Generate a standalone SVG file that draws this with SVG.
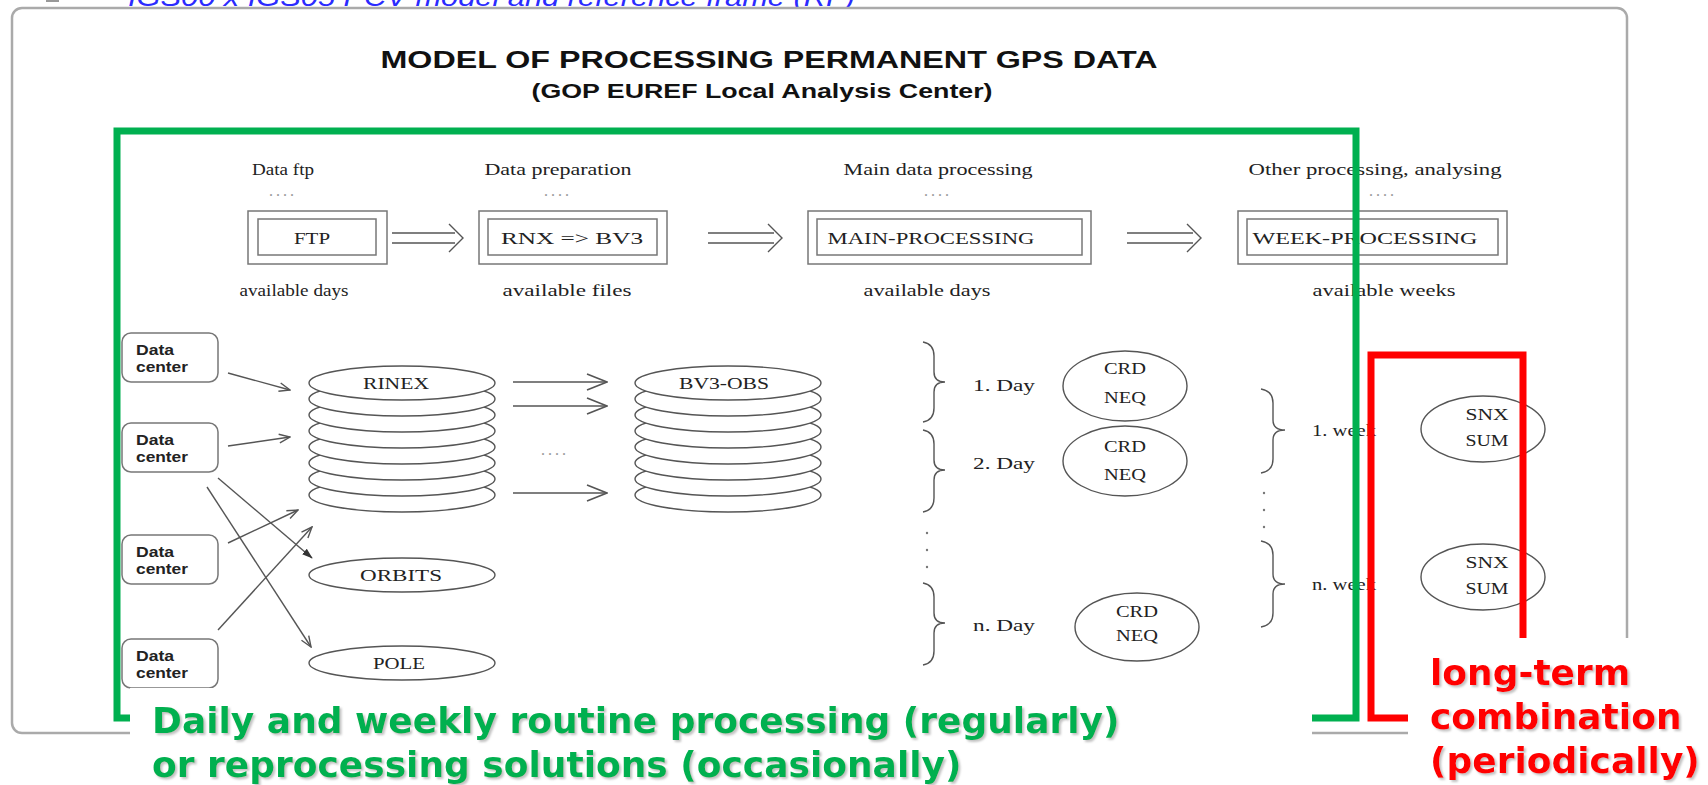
<svg xmlns="http://www.w3.org/2000/svg" width="1708" height="785" viewBox="0 0 1708 785">
<style>
.ln{fill:none;stroke:#555;stroke-width:1.4}
.bx{fill:#fff;stroke:#777;stroke-width:1.5}
.el{fill:#fff;stroke:#555;stroke-width:1.4}
.sr{font-family:"Liberation Serif",serif;fill:#222;font-size:17px}
.ss{font-family:"Liberation Sans",sans-serif;fill:#222;font-size:15px;font-weight:bold}
.dots{font-family:"Liberation Serif",serif;fill:#999;font-size:16px}
.big{font-family:"DejaVu Sans",Verdana,sans-serif;font-weight:bold;font-size:36px}
</style>
<defs>
<marker id="va" viewBox="0 0 12 10" refX="11" refY="5" markerWidth="13" markerHeight="11" markerUnits="userSpaceOnUse" orient="auto"><path d="M1,1 L11,5 L1,9" fill="none" stroke="#555" stroke-width="1.3"/></marker>
<marker id="vf" viewBox="0 0 12 10" refX="11" refY="5" markerWidth="11" markerHeight="9" markerUnits="userSpaceOnUse" orient="auto"><path d="M0,1 L12,5 L0,9 Z" fill="#333"/></marker>
<marker id="vl" viewBox="0 0 22 18" refX="21" refY="9" markerWidth="22" markerHeight="18" markerUnits="userSpaceOnUse" orient="auto"><path d="M1,1 L21,9 L1,17" fill="none" stroke="#555" stroke-width="1.6"/></marker>
<filter id="sh" x="-5%" y="-20%" width="110%" height="140%"><feDropShadow dx="2" dy="2" stdDeviation="0.8" flood-color="#999" flood-opacity="0.6"/></filter>
</defs>
<rect width="1708" height="785" fill="#fff"/>

<!-- slide header remnants -->
<rect x="46" y="0" width="13" height="2" fill="#999"/>
<text x="128" y="6" font-family="'Liberation Sans',sans-serif" font-style="italic" font-size="26" fill="#2b2bff" textLength="727" lengthAdjust="spacingAndGlyphs">IGS00 x IGS05 PCV model and reference frame (RF)</text>

<!-- frame -->
<rect x="12" y="8" width="1615" height="725" rx="10" fill="#fff" stroke="#aaa" stroke-width="2.5"/>

<g id="title">
<text x="769" y="68" text-anchor="middle" font-family="'Liberation Sans',sans-serif" font-weight="bold" font-size="24" fill="#111" textLength="777" lengthAdjust="spacingAndGlyphs">MODEL OF  PROCESSING  PERMANENT GPS DATA</text>
<text x="762" y="98" text-anchor="middle" font-family="'Liberation Sans',sans-serif" font-weight="bold" font-size="20" fill="#111" textLength="461" lengthAdjust="spacingAndGlyphs">(GOP EUREF Local Analysis Center)</text>
</g>

<!-- stage row -->
<g id="stage-ftp">
<text class="sr" x="283" y="175" text-anchor="middle" textLength="62" lengthAdjust="spacingAndGlyphs">Data ftp</text>
<text class="dots" x="283" y="196" text-anchor="middle" letter-spacing="3">....</text>
<rect class="bx" x="248" y="211" width="139" height="53"/>
<rect class="bx" x="258" y="219" width="118" height="36"/>
<text class="sr" x="312" y="244" text-anchor="middle" textLength="36" lengthAdjust="spacingAndGlyphs">FTP</text>
<text class="sr" x="294" y="296" text-anchor="middle" textLength="109" lengthAdjust="spacingAndGlyphs">available days</text>
</g>
<g id="stage-prep">
<text class="sr" x="558" y="175" text-anchor="middle" textLength="147" lengthAdjust="spacingAndGlyphs">Data preparation</text>
<text class="dots" x="558" y="196" text-anchor="middle" letter-spacing="3">....</text>
<rect class="bx" x="479" y="211" width="188" height="53"/>
<rect class="bx" x="488" y="219" width="169" height="36"/>
<text class="sr" x="572" y="244" text-anchor="middle" textLength="142" lengthAdjust="spacingAndGlyphs">RNX =&gt; BV3</text>
<text class="sr" x="567" y="296" text-anchor="middle" textLength="129" lengthAdjust="spacingAndGlyphs">available files</text>
</g>
<g id="stage-main">
<text class="sr" x="938" y="175" text-anchor="middle" textLength="189" lengthAdjust="spacingAndGlyphs">Main data processing</text>
<text class="dots" x="938" y="196" text-anchor="middle" letter-spacing="3">....</text>
<rect class="bx" x="808" y="211" width="283" height="53"/>
<rect class="bx" x="817" y="219" width="265" height="36"/>
<text class="sr" x="931" y="244" text-anchor="middle" textLength="207" lengthAdjust="spacingAndGlyphs">MAIN-PROCESSING</text>
<text class="sr" x="927" y="296" text-anchor="middle" textLength="127" lengthAdjust="spacingAndGlyphs">available days</text>
</g>
<g id="stage-week">
<text class="sr" x="1375" y="175" text-anchor="middle" textLength="253" lengthAdjust="spacingAndGlyphs">Other processing, analysing</text>
<text class="dots" x="1383" y="196" text-anchor="middle" letter-spacing="3">....</text>
<rect class="bx" x="1238" y="211" width="269" height="53"/>
<rect class="bx" x="1247" y="219" width="251" height="36"/>
<text class="sr" x="1365" y="244" text-anchor="middle" textLength="225" lengthAdjust="spacingAndGlyphs">WEEK-PROCESSING</text>
<text class="sr" x="1384" y="296" text-anchor="middle" textLength="143" lengthAdjust="spacingAndGlyphs">available weeks</text>
</g>

<!-- data centers -->
<g id="dc1"><rect class="bx" x="122" y="333" width="96" height="49" rx="9" stroke="#555"/><text class="ss" x="136" y="355" textLength="38" lengthAdjust="spacingAndGlyphs">Data</text><text class="ss" x="136" y="372" textLength="52" lengthAdjust="spacingAndGlyphs">center</text></g>
<g id="dc2"><rect class="bx" x="122" y="423" width="96" height="49" rx="9" stroke="#555"/><text class="ss" x="136" y="445" textLength="38" lengthAdjust="spacingAndGlyphs">Data</text><text class="ss" x="136" y="462" textLength="52" lengthAdjust="spacingAndGlyphs">center</text></g>
<g id="dc3"><rect class="bx" x="122" y="535" width="96" height="49" rx="9" stroke="#555"/><text class="ss" x="136" y="557" textLength="38" lengthAdjust="spacingAndGlyphs">Data</text><text class="ss" x="136" y="574" textLength="52" lengthAdjust="spacingAndGlyphs">center</text></g>
<g id="dc4"><rect class="bx" x="122" y="639" width="96" height="49" rx="9" stroke="#555"/><text class="ss" x="136" y="661" textLength="38" lengthAdjust="spacingAndGlyphs">Data</text><text class="ss" x="136" y="678" textLength="52" lengthAdjust="spacingAndGlyphs">center</text></g>

<!-- RINEX stack -->
<g id="rinex">
<ellipse class="el" cx="402" cy="495" rx="93" ry="17"/>
<ellipse class="el" cx="402" cy="479" rx="93" ry="17"/>
<ellipse class="el" cx="402" cy="463" rx="93" ry="17"/>
<ellipse class="el" cx="402" cy="447" rx="93" ry="17"/>
<ellipse class="el" cx="402" cy="431" rx="93" ry="17"/>
<ellipse class="el" cx="402" cy="415" rx="93" ry="17"/>
<ellipse class="el" cx="402" cy="399" rx="93" ry="17"/>
<ellipse class="el" cx="402" cy="383" rx="93" ry="17"/>
<text class="sr" x="396" y="389" text-anchor="middle" textLength="66" lengthAdjust="spacingAndGlyphs">RINEX</text>
</g>
<!-- BV3 stack -->
<g id="bv3obs">
<ellipse class="el" cx="728" cy="495" rx="93" ry="17"/>
<ellipse class="el" cx="728" cy="479" rx="93" ry="17"/>
<ellipse class="el" cx="728" cy="463" rx="93" ry="17"/>
<ellipse class="el" cx="728" cy="447" rx="93" ry="17"/>
<ellipse class="el" cx="728" cy="431" rx="93" ry="17"/>
<ellipse class="el" cx="728" cy="415" rx="93" ry="17"/>
<ellipse class="el" cx="728" cy="399" rx="93" ry="17"/>
<ellipse class="el" cx="728" cy="383" rx="93" ry="17"/>
<text class="sr" x="724" y="389" text-anchor="middle" textLength="90" lengthAdjust="spacingAndGlyphs">BV3-OBS</text>
</g>
<g id="orbits"><ellipse class="el" cx="402" cy="575" rx="93" ry="17"/><text class="sr" x="401" y="581" text-anchor="middle" textLength="82" lengthAdjust="spacingAndGlyphs">ORBITS</text></g>
<g id="pole"><ellipse class="el" cx="402" cy="663" rx="93" ry="17"/><text class="sr" x="399" y="669" text-anchor="middle" textLength="52" lengthAdjust="spacingAndGlyphs">POLE</text></g>
<text class="dots" x="555" y="455" text-anchor="middle" letter-spacing="3">....</text>

<!-- days -->
<g id="day1"><text class="sr" x="973" y="391" textLength="62" lengthAdjust="spacingAndGlyphs">1. Day</text><ellipse class="el" cx="1125" cy="386" rx="62" ry="35"/><text class="sr" x="1125" y="374" text-anchor="middle" textLength="42" lengthAdjust="spacingAndGlyphs">CRD</text><text class="sr" x="1125" y="403" text-anchor="middle" textLength="42" lengthAdjust="spacingAndGlyphs">NEQ</text></g>
<g id="day2"><text class="sr" x="973" y="469" textLength="62" lengthAdjust="spacingAndGlyphs">2. Day</text><ellipse class="el" cx="1125" cy="461" rx="62" ry="35"/><text class="sr" x="1125" y="452" text-anchor="middle" textLength="42" lengthAdjust="spacingAndGlyphs">CRD</text><text class="sr" x="1125" y="480" text-anchor="middle" textLength="42" lengthAdjust="spacingAndGlyphs">NEQ</text></g>
<g id="dayn"><text class="sr" x="973" y="631" textLength="62" lengthAdjust="spacingAndGlyphs">n. Day</text><ellipse class="el" cx="1137" cy="627" rx="62" ry="34"/><text class="sr" x="1137" y="617" text-anchor="middle" textLength="42" lengthAdjust="spacingAndGlyphs">CRD</text><text class="sr" x="1137" y="641" text-anchor="middle" textLength="42" lengthAdjust="spacingAndGlyphs">NEQ</text></g>
<g id="week1"><text class="sr" x="1312" y="436" font-size="14" textLength="64" lengthAdjust="spacingAndGlyphs">1. week</text><ellipse class="el" cx="1483" cy="429" rx="62" ry="33"/><text class="sr" x="1487" y="420" text-anchor="middle" textLength="43" lengthAdjust="spacingAndGlyphs">SNX</text><text class="sr" x="1487" y="446" text-anchor="middle" textLength="43" lengthAdjust="spacingAndGlyphs">SUM</text></g>
<g id="weekn"><text class="sr" x="1312" y="590" font-size="14" textLength="64" lengthAdjust="spacingAndGlyphs">n. week</text><ellipse class="el" cx="1483" cy="577" rx="62" ry="33"/><text class="sr" x="1487" y="568" text-anchor="middle" textLength="43" lengthAdjust="spacingAndGlyphs">SNX</text><text class="sr" x="1487" y="594" text-anchor="middle" textLength="43" lengthAdjust="spacingAndGlyphs">SUM</text></g>

<!-- connectors -->
<g id="connectors">
<path class="ln" d="M392,233 H455 M392,243 H455 M449,224 L463,238 L449,252"/>
<path class="ln" d="M708,233 H774 M708,243 H774 M768,224 L782,238 L768,252"/>
<path class="ln" d="M1127,233 H1193 M1127,243 H1193 M1187,224 L1201,238 L1187,252"/>
<line class="ln" x1="228" y1="373" x2="290" y2="390" marker-end="url(#va)"/>
<line class="ln" x1="228" y1="446" x2="290" y2="437" marker-end="url(#va)"/>
<line class="ln" x1="218" y1="478" x2="312" y2="558" marker-end="url(#vf)"/>
<line class="ln" x1="207" y1="487" x2="311" y2="647" marker-end="url(#va)"/>
<line class="ln" x1="228" y1="543" x2="298" y2="510" marker-end="url(#va)"/>
<line class="ln" x1="218" y1="630" x2="312" y2="527" marker-end="url(#va)"/>
<line class="ln" x1="513" y1="382" x2="607" y2="382" marker-end="url(#vl)"/>
<line class="ln" x1="513" y1="406" x2="607" y2="406" marker-end="url(#vl)"/>
<line class="ln" x1="513" y1="493" x2="607" y2="493" marker-end="url(#vl)"/>
<path class="ln" d="M923,342 Q934,344 934,356 V372 Q934,382 945,382 Q934,382 934,392 V408 Q934,420 923,422"/>
<path class="ln" d="M923,430 Q934,432 934,444 V460 Q934,470 945,470 Q934,470 934,480 V498 Q934,510 923,512"/>
<path class="ln" d="M923,583 Q934,585 934,597 V613 Q934,623 945,623 Q934,623 934,633 V651 Q934,663 923,665"/>
<path class="ln" d="M1261,389 Q1273,391 1273,403 V420 Q1273,430 1285,430 Q1273,430 1273,440 V459 Q1273,471 1261,473"/>
<path class="ln" d="M1261,541 Q1273,543 1273,555 V574 Q1273,584 1285,584 Q1273,584 1273,594 V613 Q1273,625 1261,627"/>
<g fill="#777"><circle cx="927" cy="533" r="1.2"/><circle cx="927" cy="550" r="1.2"/><circle cx="927" cy="567" r="1.2"/><circle cx="1264" cy="493" r="1.2"/><circle cx="1264" cy="510" r="1.2"/><circle cx="1264" cy="527" r="1.2"/></g>
</g>

<!-- highlight brackets -->
<path d="M130,718 H117 V131 H1356 V718 H1300" fill="none" stroke="#00b050" stroke-width="7"/>
<path d="M1420,718 H1371 V355 H1523 V650" fill="none" stroke="#ff0000" stroke-width="7"/>

<rect x="130" y="688" width="1182" height="97" fill="#fff"/>
<rect x="1408" y="638" width="300" height="147" fill="#fff"/>

<g id="note-green" filter="url(#sh)">
<text class="big" x="152" y="733" fill="#00b050">Daily and weekly routine processing (regularly)</text>
<text class="big" x="152" y="777" fill="#00b050">or reprocessing solutions (occasionally)</text>
</g>
<g id="note-red" filter="url(#sh)">
<text class="big" x="1430" y="685" fill="#ff0000">long-term</text>
<text class="big" x="1430" y="729" fill="#ff0000">combination</text>
<text class="big" x="1430" y="773" fill="#ff0000">(periodically)</text>
</g>
</svg>
